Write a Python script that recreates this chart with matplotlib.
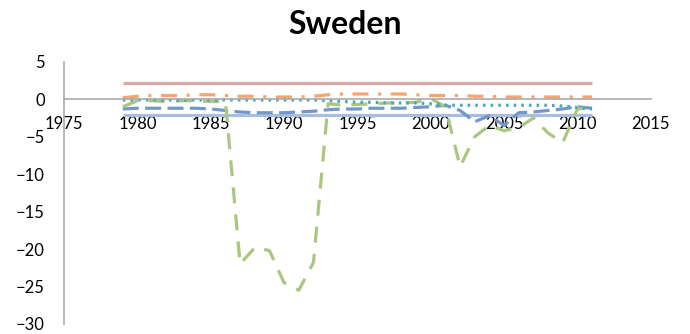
import numpy as np
import matplotlib.pyplot as plt

plt.rcParams['font.family'] = ['Lato', 'DejaVu Sans']

years = list(range(1979, 2012))

# component series, one value per year 1979-2011
constant = [2.2] * 33
orange = [0.2, 0.4, 0.5, 0.5, 0.5, 0.6, 0.6, 0.5, 0.4, 0.4, 0.3, 0.3, 0.3,
          0.4, 0.6, 0.7, 0.7, 0.7, 0.7, 0.7, 0.6, 0.5, 0.5, 0.5, 0.4, 0.4,
          0.3, 0.3, 0.3, 0.3, 0.3, 0.3, 0.3]
teal = [-0.1, -0.1, -0.1, -0.1, -0.1, -0.1, -0.1, -0.1, -0.1, -0.1, -0.1,
        -0.1, -0.1, -0.1, -0.2, -0.3, -0.4, -0.4, -0.5, -0.5, -0.5, -0.6,
        -0.8, -0.8, -0.8, -0.8, -0.8, -0.8, -0.8, -0.8, -0.9, -1.1, -1.3]
blue = [-1.3, -1.2, -1.2, -1.2, -1.2, -1.2, -1.3, -1.5, -1.7, -1.8, -1.8,
        -1.8, -1.7, -1.6, -1.4, -1.3, -1.3, -1.2, -1.2, -1.2, -1.1, -1.0,
        -0.8, -1.5, -3.0, -2.2, -3.5, -1.8, -1.7, -1.5, -1.3, -1.0, -1.2]
green = [-1.0, -0.2, -0.2, -0.3, -0.2, -0.2, -0.3, -0.3, -22.0, -19.8, -20.2,
         -24.5, -25.5, -21.8, -0.6, -0.8, -0.7, -0.6, -0.5, -0.5, -0.4, 0.1,
         -1.0, -9.0, -5.0, -3.5, -4.2, -3.8, -2.5, -4.5, -5.8, -1.3, -1.0]
lightblue = [-2.1] * 33

fig = plt.figure(figsize=(6.9, 3.34), dpi=100)
ax = fig.add_axes([0.093, 0.03, 0.85, 0.785])

lw = 2.3
ax.plot(years, constant, color='#D9A7A5', lw=lw, solid_capstyle='butt')
ax.plot(years, orange, color='#F7A46E', lw=lw, dashes=(5, 3, 1, 3))
ax.plot(years, lightblue, color='#A8BEDF', lw=lw, solid_capstyle='butt')
ax.plot(years, blue, color='#7497CB', lw=lw, dashes=(5, 2))
ax.plot(years, green, color='#A9C77E', lw=lw, dashes=(5, 3.5))
ax.plot(years, teal, color='#41A9C4', lw=lw, dashes=(0.8, 1.6))

ax.set_xlim(1975, 2015)
ax.set_ylim(-30, 5)
ax.set_xticks(range(1975, 2016, 5))
ax.set_yticks(range(-30, 6, 5))

ax.spines['top'].set_visible(False)
ax.spines['right'].set_visible(False)
ax.spines['bottom'].set_position(('data', 0))
for s in ('left', 'bottom'):
    ax.spines[s].set_color('#AAAAAA')
    ax.spines[s].set_linewidth(1.2)

ax.tick_params(length=0, labelsize=12, colors='black')
ax.tick_params(axis='x', pad=12)
ax.tick_params(axis='y', pad=14)

fig.suptitle('Sweden', fontsize=23, fontweight='bold', y=0.97)

fig.savefig('out.png', dpi=100)
